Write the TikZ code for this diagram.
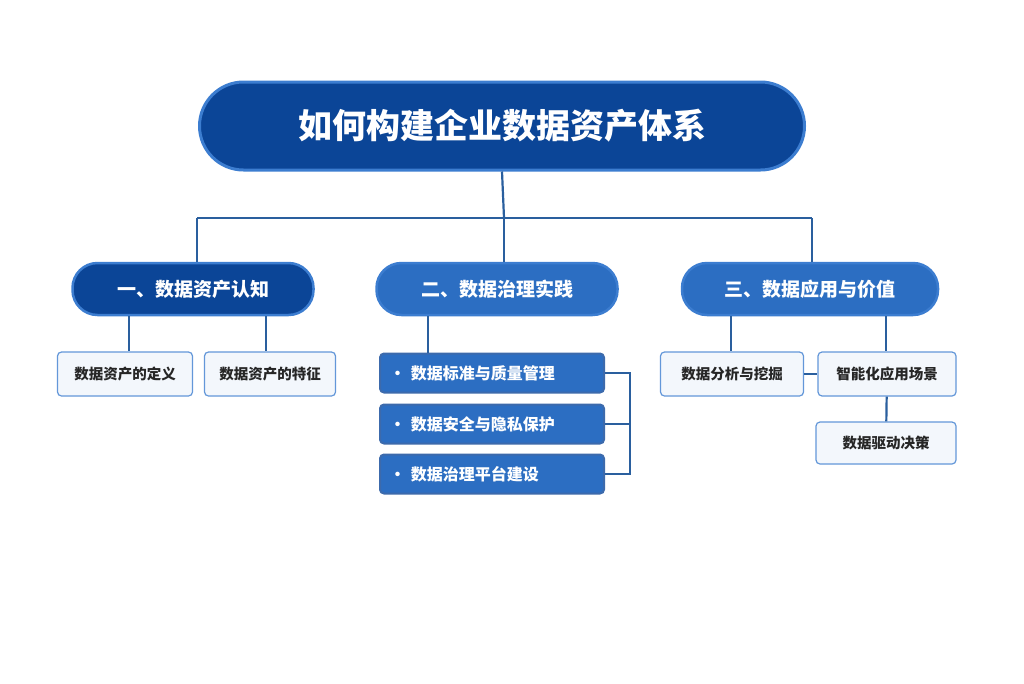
\documentclass[tikz,border=0pt]{standalone}
\usepackage{fontspec}
\setmainfont{Noto Sans CJK SC}
\usetikzlibrary{positioning}
\definecolor{navy}{HTML}{0B4597}
\definecolor{rimblue}{HTML}{3C7DD0}
\definecolor{midblue}{HTML}{2C6EC2}
\definecolor{lineblue}{HTML}{2A5F9E}
\definecolor{paleblue}{HTML}{F3F7FC}
\begin{document}
\begin{tikzpicture}
[
x=1pt, y=-1pt, line width=2.2pt,
title/.style    = {draw=rimblue, line width=3pt, fill=navy, rounded corners=44pt, text=white, font=\fontsize{34}{40}\selectfont\bfseries, minimum width=605pt, minimum height=88pt},
chapter/.style  = {draw=rimblue, line width=2.5pt, fill=navy, rounded corners=25pt, text=white, font=\fontsize{19}{22}\selectfont\bfseries, minimum height=52pt},
item/.style     = {draw=navy!80, line width=2pt, fill=midblue, rounded corners=4pt, text=white, font=\fontsize{16}{19}\selectfont\bfseries, minimum width=224pt, minimum height=39pt, align=left, text width=205pt},
leaf/.style     = {draw=rimblue!80, line width=1.2pt, fill=paleblue, rounded corners=4pt, text=black!85, font=\fontsize{14.5}{17}\selectfont\bfseries, minimum height=44pt},
link/.style     = {draw=lineblue, line width=2.2pt},
]
\useasboundingbox (0,0) rectangle (1024,683);
\fill[white] (0,0) rectangle (1024,683);

\node at (502,126)[title] (root) {如何构建企业数据资产体系};

\node at (193,289)[chapter,minimum width=241pt] (c1) {一、数据资产认知};
\node at (497,289)[chapter,minimum width=241pt,fill=midblue] (c2) {二、数据治理实践};
\node at (810,289)[chapter,minimum width=256pt,fill=midblue] (c3) {三、数据应用与价值};

\node at (125,374)[leaf,minimum width=135pt] (def) {数据资产的定义};
\node at (270,374)[leaf,minimum width=131pt] (feat) {数据资产的特征};

\node at (492,373)[item] (std) {· 数据标准与质量管理};
\node at (492,424)[item] (sec) {· 数据安全与隐私保护};
\node at (492,474)[item] (plat) {· 数据治理平台建设};

\node at (732,374)[leaf,minimum width=143pt] (ana) {数据分析与挖掘};
\node at (887,374)[leaf,minimum width=138pt] (scene) {智能化应用场景};
\node at (886,443)[leaf,minimum width=140pt,minimum height=42pt] (dec) {数据驱动决策};

\coordinate (hub) at (504,218);
\draw[link] (root.south) -- (hub);
\draw[link] (197,218) -- (812,218);
\draw[link] (197,218) -- (c1.north -| 197,0);
\draw[link] (hub) -- (c2.north -| 504,0);
\draw[link] (812,218) -- (c3.north -| 812,0);

\draw[link] (c1.south -| 129,0) -- (def.north -| 129,0);
\draw[link] (c1.south -| 266,0) -- (feat.north -| 266,0);
\draw[link] (c2.south -| 428,0) -- (std.north -| 428,0);
\draw[link] (std.east) -- (630,373) -- (630,474) -- (plat.east);
\draw[link] (sec.east) -- (630,424);
\draw[link] (c3.south -| 731,0) -- (ana.north -| 731,0);
\draw[link] (c3.south -| 886,0) -- (scene.north -| 886,0);
\draw[link] (ana) -- (scene);
\draw[link] (scene) -- (dec);
\end{tikzpicture}
\end{document}
